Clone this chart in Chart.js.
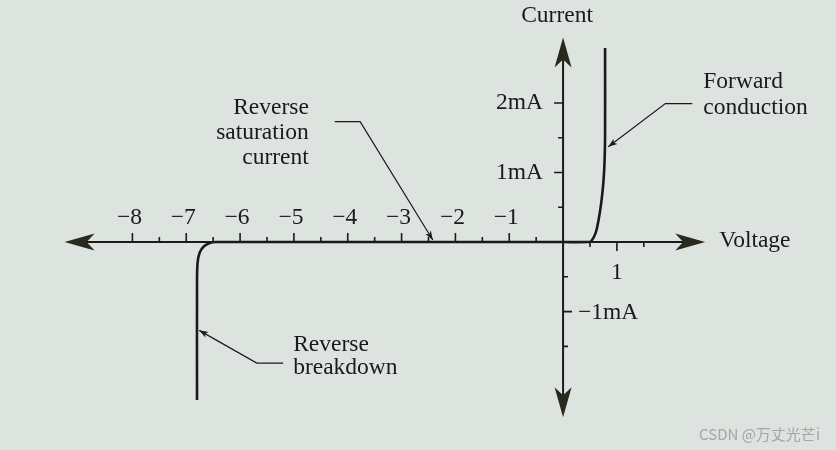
<!DOCTYPE html>
<html>
<head>
<meta charset="utf-8">
<script src="https://cdn.jsdelivr.net/npm/chart.js@4.4.0/dist/chart.umd.min.js"></script>
<style>
html,body{margin:0;padding:0;background:#dde3df;}
#wrap{width:836px;height:450px;position:relative;}
canvas{display:block;}
</style>
</head>
<body>
<div id="wrap"><canvas id="c" width="836" height="450"></canvas></div>
<script>
// ---- data (Voltage in V, Current in mA) ----
const curveV = [-6.8, -6.8, -6.79, -6.75, -6.67, -6.55, -6.45, -3.0, 0.0, 0.46, 0.52, 0.6, 0.66, 0.71, 0.75, 0.77, 0.78, 0.78];
const curveI = [-2.27, -0.6, -0.3, -0.15, -0.06, -0.01, 0.0, 0.0, 0.0, 0.0, 0.01, 0.12, 0.32, 0.57, 0.87, 1.15, 1.5, 2.79];

const xMajorTicks = [-8, -7, -6, -5, -4, -3, -2, -1, 1];
const xTickLabels = ['\u22128', '\u22127', '\u22126', '\u22125', '\u22124', '\u22123', '\u22122', '\u22121', '1'];
const xMinorTicks = [-7.5, -6.5, -5.5, -4.5, -3.5, -2.5, -1.5, -0.5, 0.5, 1.5];

const yMajorTicks = [2, 1, -1];
const yTickLabels = ['2mA', '1mA', '\u22121mA'];
const yMinorTicks = [1.5, 0.5, -0.5, -1.5];

const xAxisExtent = [-9.26, 2.64];
const yAxisExtent = [-2.52, 2.94];

const axisTitles = ['Voltage', 'Current'];

// annotation leaders: [text anchor end, bend, arrow tip] in data units
const leaderSatV = [-4.24, -3.77, -2.42];
const leaderSatI = [1.73, 1.73, 0.03];
const leaderFwdV = [2.40, 1.90, 0.84];
const leaderFwdI = [1.99, 1.99, 1.37];
const leaderBrkV = [-5.20, -5.69, -6.76];
const leaderBrkI = [-1.74, -1.74, -1.27];

const labelSat = ['Reverse', 'saturation', 'current'];
const labelFwd = ['Forward', 'conduction'];
const labelBrk = ['Reverse', 'breakdown'];

const curveData = curveV.map((v, i) => ({x: v, y: curveI[i]}));

const INK = '#1a1a1a';
const ARROW = '#2a291d';
const FONT = '23.5px "Liberation Serif", "DejaVu Serif", serif';

function bigArrow(ctx, tx, ty, dx, dy) {
  const L = 30, W = 8.5, N = 22;
  const px = -dy, py = dx;
  ctx.beginPath();
  ctx.moveTo(tx, ty);
  ctx.lineTo(tx - dx * L + px * W, ty - dy * L + py * W);
  ctx.lineTo(tx - dx * N, ty - dy * N);
  ctx.lineTo(tx - dx * L - px * W, ty - dy * L - py * W);
  ctx.closePath();
  ctx.fillStyle = ARROW;
  ctx.fill();
}
function smallArrow(ctx, fx, fy, tx, ty) {
  const ang = Math.atan2(ty - fy, tx - fx);
  const L = 9, W = 3.2;
  const dx = Math.cos(ang), dy = Math.sin(ang);
  ctx.beginPath();
  ctx.moveTo(tx, ty);
  ctx.lineTo(tx - dx * L - dy * W, ty - dy * L + dx * W);
  ctx.lineTo(tx - dx * L * 0.75, ty - dy * L * 0.75);
  ctx.lineTo(tx - dx * L + dy * W, ty - dy * L - dx * W);
  ctx.closePath();
  ctx.fillStyle = INK;
  ctx.fill();
}

const axesPlugin = {
  id: 'axes',
  beforeDatasetsDraw(chart) {
    const ctx = chart.ctx;
    const xs = chart.scales.x, ys = chart.scales.y;
    const X = v => xs.getPixelForValue(v), Y = v => ys.getPixelForValue(v);
    const ox = X(0), oy = Y(0);
    ctx.save();
    ctx.strokeStyle = INK;
    ctx.lineWidth = 2;
    ctx.beginPath();
    ctx.moveTo(X(xAxisExtent[0]) + 10, oy);
    ctx.lineTo(X(xAxisExtent[1]) - 10, oy);
    ctx.stroke();
    ctx.beginPath();
    ctx.moveTo(ox, Y(yAxisExtent[1]) + 10);
    ctx.lineTo(ox, Y(yAxisExtent[0]) - 10);
    ctx.stroke();
    bigArrow(ctx, X(xAxisExtent[0]), oy, -1, 0);
    bigArrow(ctx, X(xAxisExtent[1]), oy, 1, 0);
    bigArrow(ctx, ox, Y(yAxisExtent[1]), 0, -1);
    bigArrow(ctx, ox, Y(yAxisExtent[0]), 0, 1);
    ctx.lineWidth = 1.6;
    ctx.beginPath();
    xMajorTicks.forEach(v => {
      const px = X(v), len = 9, s = v < 0 ? -1 : 1;
      ctx.moveTo(px, oy); ctx.lineTo(px, oy + s * len);
    });
    xMinorTicks.forEach(v => {
      const px = X(v), len = 5, s = v < 0 ? -1 : 1;
      ctx.moveTo(px, oy); ctx.lineTo(px, oy + s * len);
    });
    yMajorTicks.forEach(v => {
      const py = Y(v), len = 9, s = v > 0 ? -1 : 1;
      ctx.moveTo(ox, py); ctx.lineTo(ox + s * len, py);
    });
    yMinorTicks.forEach(v => {
      const py = Y(v), len = 5, s = v > 0 ? -1 : 1;
      ctx.moveTo(ox, py); ctx.lineTo(ox + s * len, py);
    });
    ctx.stroke();
    ctx.restore();
  },
  afterDatasetsDraw(chart) {
    const ctx = chart.ctx;
    const xs = chart.scales.x, ys = chart.scales.y;
    const X = v => xs.getPixelForValue(v), Y = v => ys.getPixelForValue(v);
    const ox = X(0), oy = Y(0);
    ctx.save();
    ctx.fillStyle = INK;
    ctx.font = FONT;
    ctx.textBaseline = 'middle';
    ctx.textAlign = 'center';
    xMajorTicks.forEach((v, i) => {
      const py = v < 0 ? oy - 24 : oy + 31;
      ctx.fillText(xTickLabels[i], X(v) + (v < 0 ? -3 : 0), py);
    });
    yMajorTicks.forEach((v, i) => {
      if (v > 0) { ctx.textAlign = 'right'; ctx.fillText(yTickLabels[i], ox - 20, Y(v)); }
      else { ctx.textAlign = 'left'; ctx.fillText(yTickLabels[i], ox + 15, Y(v) + 1); }
    });
    ctx.textAlign = 'left';
    ctx.fillText(axisTitles[0], X(xAxisExtent[1]) + 14, oy - 1);
    ctx.textAlign = 'center';
    ctx.fillText(axisTitles[1], ox - 6, 16);

    ctx.strokeStyle = INK;
    ctx.lineWidth = 1.2;
    [[leaderSatV, leaderSatI], [leaderFwdV, leaderFwdI], [leaderBrkV, leaderBrkI]].forEach(([vv, ii]) => {
      ctx.beginPath();
      ctx.moveTo(X(vv[0]), Y(ii[0]));
      ctx.lineTo(X(vv[1]), Y(ii[1]));
      ctx.lineTo(X(vv[2]), Y(ii[2]));
      ctx.stroke();
      smallArrow(ctx, X(vv[1]), Y(ii[1]), X(vv[2]), Y(ii[2]));
    });
    ctx.fillStyle = INK;
    ctx.textAlign = 'right';
    labelSat.forEach((t, k) => ctx.fillText(t, X(leaderSatV[0]) - 26, Y(leaderSatI[0]) - 14 + k * 25));
    ctx.textAlign = 'left';
    labelFwd.forEach((t, k) => ctx.fillText(t, X(leaderFwdV[0]) + 11, Y(leaderFwdI[0]) - 22 + k * 26));
    labelBrk.forEach((t, k) => ctx.fillText(t, X(leaderBrkV[0]) + 10, Y(leaderBrkI[0]) - 18 + k * 23));

    ctx.font = '15px "Noto Sans CJK SC", "Noto Sans", sans-serif';
    ctx.fillStyle = '#a3a7a5';
    ctx.textAlign = 'right';
    ctx.fillText('CSDN @万丈光芒i', 820, 434);
    ctx.restore();
  }
};

new Chart(document.getElementById('c'), {
  type: 'scatter',
  data: {
    datasets: [{
      label: 'Diode I-V',
      data: curveData,
      showLine: true,
      borderColor: INK,
      borderWidth: 2.6,
      pointRadius: 0,
      tension: 0.35,
      fill: false
    }]
  },
  options: {
    responsive: false,
    animation: false,
    layout: {padding: 0},
    plugins: {legend: {display: false}, tooltip: {enabled: false}, title: {display: false}},
    scales: {
      x: {type: 'linear', display: false, min: -10.46, max: 5.07},
      y: {type: 'linear', display: false, min: -2.99, max: 3.48}
    }
  },
  plugins: [axesPlugin]
});
</script>
</body>
</html>
